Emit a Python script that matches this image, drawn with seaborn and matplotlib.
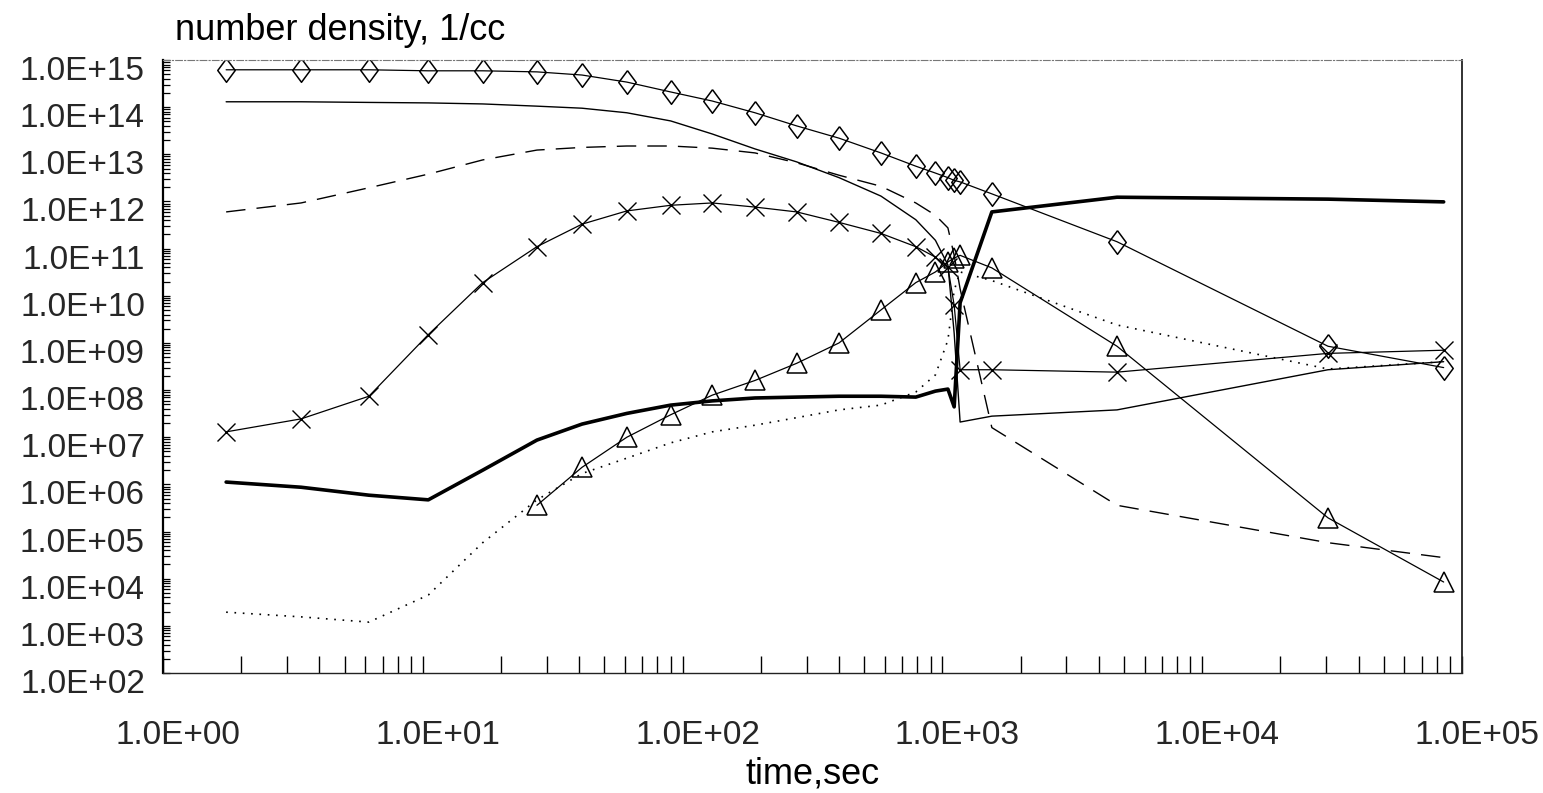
import numpy as np
import pandas as pd
import matplotlib
matplotlib.use("Agg")
import matplotlib.pyplot as plt
import matplotlib.transforms as mtransforms
from matplotlib import ticker
import seaborn as sns

# ---------------- data ----------------
time_sec = [1.75, 3.4, 6.2, 10.5, 17, 27.5, 41, 61, 90, 130, 190, 275, 400, 580,
            790, 940, 1050, 1110, 1170, 1550, 4700, 30500, 85000]

diamond_vals = [6.2e14, 6.2e14, 6.2e14, 5.9e14, 5.9e14, 5.6e14, 4.8e14, 3.4e14, 2.1e14,
                1.35e14, 7.6e13, 4.0e13, 2.2e13, 1.07e13, 5.6e12, 4.0e12, 3.2e12, 2.8e12,
                2.6e12, 1.45e12, 1.4e11, 8.5e8, 3.0e8]

plain_vals = [1.3e14, 1.3e14, 1.26e14, 1.23e14, 1.17e14, 1.05e14, 9.5e13, 7.6e13, 5.1e13,
              2.7e13, 1.3e13, 6.9e12, 3.2e12, 1.3e12, 4.1e11, 1.5e11, 4.5e10, 1.6e9,
              2.1e7, 2.8e7, 3.8e7, 2.7e8, 4.0e8]

dashed_vals = [6.0e11, 9.3e11, 1.95e12, 3.8e12, 7.6e12, 1.23e13, 1.4e13, 1.5e13, 1.5e13,
               1.35e13, 1.07e13, 6.6e12, 3.6e12, 2.1e12, 9.3e11, 5.1e11, 2.75e11, 7.2e10,
               1.4e10, 1.6e7, 3.6e5, 5.8e4, 2.8e4]

cross_vals = [1.3e7, 2.45e7, 7.4e7, 1.5e9, 1.9e10, 1.1e11, 3.3e11, 6.3e11, 8.3e11, 9.3e11,
              7.6e11, 6.0e11, 3.6e11, 2.1e11, 1.1e11, 6.6e10, 4.0e10, 6.3e9, 2.7e8, 2.7e8,
              2.4e8, 6.0e8, 7.0e8]

thick_vals = [1.12e6, 8.7e5, 5.9e5, 4.7e5, 2.0e6, 8.7e6, 1.9e7, 3.2e7, 4.8e7, 5.9e7,
              6.8e7, 7.1e7, 7.4e7, 7.4e7, 7.1e7, 9.5e7, 1.05e8, 4.4e7, 7.1e9, 6.0e11,
              1.23e12, 1.12e12, 9.8e11]

tri_time = time_sec[5:]
tri_vals = [3.6e5, 2.3e6, 1.0e7, 3.0e7, 7.8e7, 1.6e8, 3.7e8, 1.0e9, 5.0e9, 1.9e10, 3.2e10,
            5.2e10, 6.3e10, 7.2e10, 3.9e10, 8.5e8, 1.95e5, 8.5e3]

dotted_vals = [1.95e3, 1.55e3, 1.2e3, 4.5e3, 5.8e4, 4.7e5, 1.7e6, 3.6e6, 7.6e6, 1.3e7,
               1.8e7, 2.6e7, 3.8e7, 4.8e7, 9.1e7, 2.1e8, 1.15e9, 1.3e10, 3.2e10, 2.1e10,
               2.4e9, 2.8e8, 4.0e8]

x_ticks = [1e0, 1e1, 1e2, 1e3, 1e4, 1e5]
x_tick_labels = ["1.0E+00", "1.0E+01", "1.0E+02", "1.0E+03", "1.0E+04", "1.0E+05"]
y_ticks = [10.0 ** k for k in range(2, 16)]
y_tick_labels = ["1.0E+%02d" % k for k in range(2, 16)]

# ---------------- figure ----------------
sns.set_theme(style="white")
plt.rcParams["font.family"] = ["Liberation Sans", "DejaVu Sans"]

W, H = 1543, 793
fig, ax = plt.subplots(figsize=(W / 100, H / 100), dpi=100)
fig.subplots_adjust(left=163 / W, right=1462 / W, top=1 - 60 / H, bottom=1 - 673 / H)

diamond_marker = [(0, 1), (0.74, 0), (0, -1), (-0.74, 0), (0, 1)]

common = dict(ax=ax, color="black", errorbar=None, legend=False)

sns.lineplot(x=time_sec, y=diamond_vals, lw=0.9, marker=diamond_marker, markersize=17,
             markerfacecolor="none", markeredgecolor="black", markeredgewidth=1.1, **common)
sns.lineplot(x=time_sec, y=plain_vals, lw=1.0, **common)
sns.lineplot(x=time_sec, y=dashed_vals, lw=1.0, linestyle=(0, (14, 8)), **common)
sns.lineplot(x=time_sec, y=cross_vals, lw=0.9, marker="x", markersize=13,
             markeredgecolor="black", markeredgewidth=1.0, **common)
sns.lineplot(x=time_sec, y=thick_vals, lw=2.6, **common)
sns.lineplot(x=tri_time, y=tri_vals, lw=0.9, marker="^", markersize=15,
             markerfacecolor="none", markeredgecolor="black", markeredgewidth=1.1, **common)
sns.lineplot(x=time_sec, y=dotted_vals, lw=1.2, linestyle=(0, (1, 4)), **common)

ax.set_xscale("log")
ax.set_yscale("log")
ax.set_xlim(1, 1e5)
ax.set_ylim(1e2, 1e15)

ax.set_xticks(x_ticks)
ax.set_xticklabels(x_tick_labels)
ax.set_yticks(y_ticks)
ax.set_yticklabels(y_tick_labels)
ax.xaxis.set_minor_locator(ticker.LogLocator(base=10, subs=np.arange(2, 10), numticks=100))
ax.yaxis.set_minor_locator(ticker.LogLocator(base=10, subs=np.arange(2, 10), numticks=100))
ax.xaxis.set_minor_formatter(ticker.NullFormatter())
ax.yaxis.set_minor_formatter(ticker.NullFormatter())

ax.tick_params(axis="x", which="both", direction="in", length=12, width=1.0,
               bottom=True, top=False, labelsize=24, pad=34, color="black")
ax.tick_params(axis="y", which="both", direction="in", length=5, width=0.9,
               left=True, right=False, labelsize=24, pad=13, color="black")

# shift tick labels like the reference
xoff = mtransforms.ScaledTranslation(15 / 100, 0, fig.dpi_scale_trans)
for lab in ax.xaxis.get_majorticklabels():
    lab.set_transform(lab.get_transform() + xoff)
yoff = mtransforms.ScaledTranslation(0, -8 / 100, fig.dpi_scale_trans)
for lab in ax.yaxis.get_majorticklabels():
    lab.set_transform(lab.get_transform() + yoff)

ax.set_xlabel("time,sec", fontsize=26, labelpad=4, color="black")
ax.set_ylabel("")

for side in ["left", "bottom", "right", "top"]:
    ax.spines[side].set_visible(True)
ax.spines["left"].set_color("black")
ax.spines["left"].set_linewidth(1.6)
ax.spines["bottom"].set_color("#222222")
ax.spines["bottom"].set_linewidth(1.0)
ax.spines["right"].set_color("#222222")
ax.spines["right"].set_linewidth(1.3)
ax.spines["top"].set_color("#777777")
ax.spines["top"].set_linewidth(0.8)
ax.spines["top"].set_linestyle((0, (6, 2, 1, 2)))

fig.text(175 / W, 1 - 40 / H, "number density, 1/cc", fontsize=26, ha="left",
         va="baseline", color="black")

fig.savefig("out.png", dpi=100, facecolor="white")
